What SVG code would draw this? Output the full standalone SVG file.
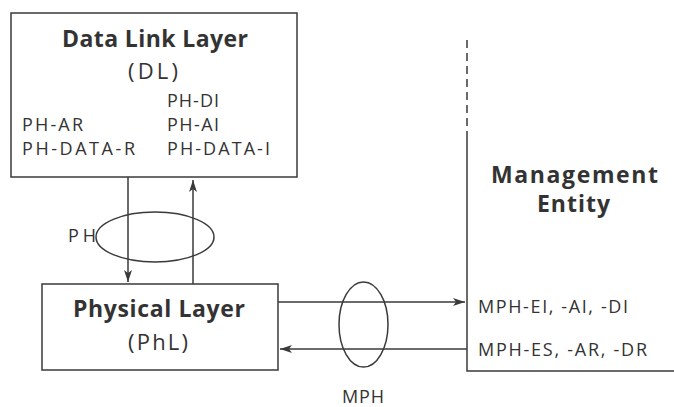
<svg xmlns="http://www.w3.org/2000/svg" width="674" height="407" viewBox="0 0 674 407">
<style>
.box{fill:#fff;stroke:#3a3a3a;stroke-width:1.5}
.ln{fill:none;stroke:#3a3a3a;stroke-width:1.5}
.t{font-family:"Open Sans","Noto Sans",sans-serif;fill:#333;font-size:18px}
.b{font-weight:bold;font-size:23px}
.m{font-size:22px}
</style>
<defs>
<marker id="ah" viewBox="0 0 12 8" refX="12" refY="4" markerWidth="12" markerHeight="8" markerUnits="userSpaceOnUse" orient="auto">
<path d="M0,0 L12,4 L0,8 L3,4 Z" fill="#3a3a3a"/>
</marker>
</defs>
<rect width="674" height="407" fill="#fff"/>
<g id="dl">
<rect class="box" x="11" y="13" width="286" height="164"/>
<text class="t b" x="62" y="47" textLength="186" lengthAdjust="spacing">Data Link Layer</text>
<text class="t m" x="128" y="79" textLength="50" lengthAdjust="spacing">(DL)</text>
<text class="t" x="167" y="107" textLength="52" lengthAdjust="spacing">PH-DI</text>
<text class="t" x="22" y="131" textLength="61" lengthAdjust="spacing">PH-AR</text>
<text class="t" x="167" y="131" textLength="52" lengthAdjust="spacing">PH-AI</text>
<text class="t" x="22" y="155" textLength="113" lengthAdjust="spacing">PH-DATA-R</text>
<text class="t" x="167" y="155" textLength="103" lengthAdjust="spacing">PH-DATA-I</text>
</g>
<g id="phl">
<rect class="box" x="42" y="284" width="236" height="86"/>
<text class="t b" x="73" y="317" textLength="172" lengthAdjust="spacing">Physical Layer</text>
<text class="t m" x="128" y="350" textLength="60" lengthAdjust="spacing">(PhL)</text>
</g>
<g id="me">
<path class="ln" d="M467,40 V133" stroke-dasharray="8,5"/>
<path class="ln" d="M467,133 V371 H674"/>
<text class="t b" x="491" y="183" textLength="167" lengthAdjust="spacing">Management</text>
<text class="t b" x="537" y="212" textLength="73" lengthAdjust="spacing">Entity</text>
<text class="t" x="478" y="313" textLength="150" lengthAdjust="spacing">MPH-EI, -AI, -DI</text>
<text class="t" x="478" y="356" textLength="169" lengthAdjust="spacing">MPH-ES, -AR, -DR</text>
</g>
<g id="connectors">
<line class="ln" x1="128" y1="177" x2="128" y2="282" marker-end="url(#ah)"/>
<line class="ln" x1="193" y1="284" x2="193" y2="180" marker-end="url(#ah)"/>
<ellipse class="ln" cx="155" cy="237" rx="59" ry="25"/>
<text class="t" x="68" y="242" textLength="28" lengthAdjust="spacing">PH</text>
<line class="ln" x1="278" y1="302" x2="465" y2="302" marker-end="url(#ah)"/>
<line class="ln" x1="467" y1="349" x2="280" y2="349" marker-end="url(#ah)"/>
<ellipse class="ln" cx="363.5" cy="324.5" rx="24.5" ry="42.5"/>
<text class="t" x="342" y="403" textLength="42" lengthAdjust="spacing">MPH</text>
</g>
</svg>
